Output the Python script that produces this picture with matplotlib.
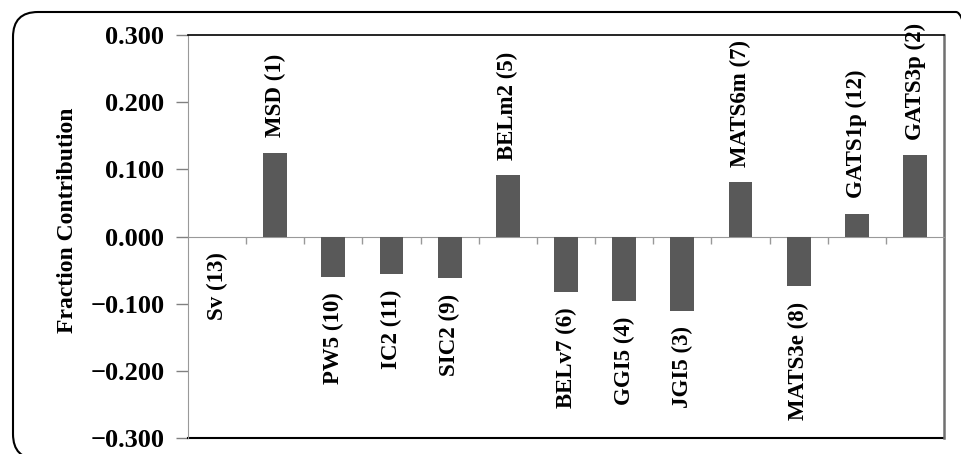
import matplotlib
matplotlib.use('Agg')
import matplotlib.pyplot as plt
import numpy as np
from matplotlib.patches import FancyBboxPatch
from matplotlib.ticker import FuncFormatter

descriptors = ['Sv (13)', 'MSD (1)', 'PW5 (10)', 'IC2 (11)', 'SIC2 (9)', 'BELm2 (5)',
               'BELv7 (6)', 'GGI5 (4)', 'JGI5 (3)', 'MATS6m (7)', 'MATS3e (8)',
               'GATS1p (12)', 'GATS3p (2)']
contribution = [0.000, 0.125, -0.060, -0.056, -0.062, 0.091,
                -0.083, -0.096, -0.111, 0.081, -0.074, 0.034, 0.121]
yticks = [-0.3, -0.2, -0.1, 0.0, 0.1, 0.2, 0.3]

plt.rcParams['font.family'] = ['Liberation Serif', 'DejaVu Serif']
plt.rcParams['font.weight'] = 'bold'

fig = plt.figure(figsize=(9.61, 4.54), dpi=100)
ax = fig.add_axes([0.1956, 0.0352, 0.7867, 0.8877])

x = np.arange(len(descriptors))
ax.bar(x, contribution, width=0.41, color='#595959', zorder=3)

for xi, v, name in zip(x, contribution, descriptors):
    if v > 0:
        ax.annotate(name, (xi, v), xytext=(0, 11), textcoords='offset points',
                    rotation=90, ha='center', va='bottom', fontsize=16.5, fontweight='bold')
    else:
        ax.annotate(name, (xi, v), xytext=(0, -11), textcoords='offset points',
                    rotation=90, ha='center', va='top', fontsize=16.5, fontweight='bold')

ax.set_xlim(-0.5, len(descriptors) - 0.5)
ax.set_ylim(-0.3, 0.3)
ax.set_yticks(yticks)
ax.yaxis.set_major_formatter(FuncFormatter(lambda v, p: ('%.3f' % v).replace('-', '\u2212')))
ax.tick_params(axis='y', direction='out', length=9, width=1, color='#808080',
               labelsize=19, pad=8)
for lab in ax.get_yticklabels():
    lab.set_fontweight('bold')

ax.set_xticks(np.arange(0.5, len(descriptors) - 0.5))
ax.set_xticklabels([])
ax.tick_params(axis='x', direction='out', length=5, width=1, color='#999999')

ax.spines['bottom'].set_position(('data', 0))
ax.spines['bottom'].set_color('#999999')
ax.spines['left'].set_color('#999999')
ax.spines['top'].set_color('black')
ax.spines['top'].set_linewidth(1.2)
ax.spines['right'].set_color('#707070')
ax.spines['right'].set_linewidth(1.8)
# plot area bottom border
ax.plot([0, 1], [0, 0], transform=ax.transAxes, color='black', lw=1.5, clip_on=False)

fig.text(0.07, 0.515, 'Fraction Contribution', rotation=90, ha='center', va='center',
         fontsize=17, fontweight='bold')

# rounded frame, cut off on the right and bottom as in the original
frame = FancyBboxPatch((0.13, -0.05), 9.68, 4.47, boxstyle='round,pad=0,rounding_size=0.25',
                       transform=fig.dpi_scale_trans, fill=False, ec='black', lw=1.5)
fig.patches.append(frame)

fig.savefig('out.png', dpi=100)
